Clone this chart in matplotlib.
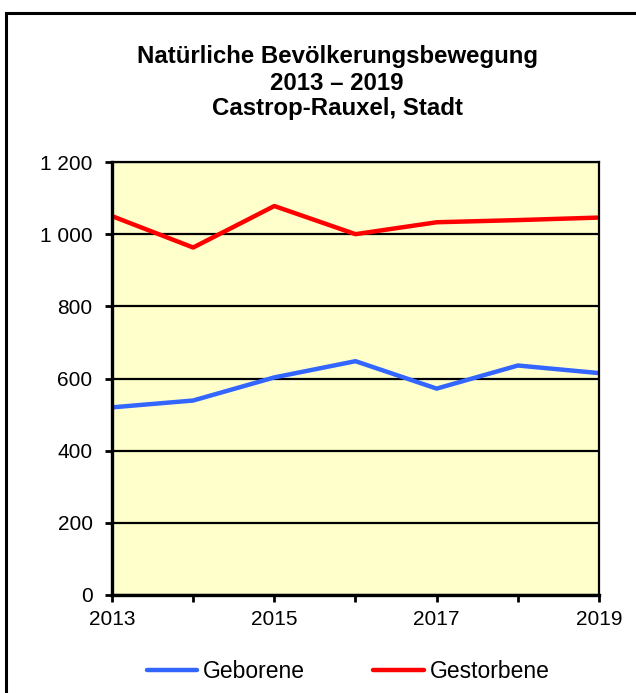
import matplotlib.pyplot as plt
from matplotlib.patches import Rectangle
from matplotlib.ticker import FuncFormatter, MultipleLocator

plt.rcParams['font.family'] = ['Liberation Sans', 'DejaVu Sans']

# data
years = [2013, 2014, 2015, 2016, 2017, 2018, 2019]
geborene = [520, 539, 603, 648, 572, 636, 615]
gestorbene = [1050, 963, 1078, 1000, 1033, 1039, 1046]

title_lines = ["Natürliche Bevölkerungsbewegung", "2013 – 2019", "Castrop-Rauxel, Stadt"]

fig = plt.figure(figsize=(6.36, 6.93), dpi=100)
W, H = 636, 693

# outer frame, cut off at right and bottom like the original
fig.patches.append(Rectangle((5.5 / W, -0.1), 1.2, (H - 13) / H + 0.1,
                             transform=fig.transFigure, fill=False,
                             edgecolor='black', linewidth=2.2))

ax = fig.add_axes([112 / W, (H - 595) / H, 487 / W, 433 / H])
ax.set_facecolor('#FFFFCC')

ax.plot(years, geborene, color='#3366FF', lw=3.2, label='Geborene', solid_capstyle='round')
ax.plot(years, gestorbene, color='#FF0000', lw=3.2, label='Gestorbene', solid_capstyle='round')

ax.set_xlim(2013, 2019)
ax.set_ylim(0, 1200)
ax.yaxis.set_major_locator(MultipleLocator(200))
ax.yaxis.set_major_formatter(FuncFormatter(lambda v, p: f"{int(v):,}".replace(",", " ")))
ax.set_xticks(years)
ax.set_xticklabels([str(y) if (y - 2013) % 2 == 0 else "" for y in years])
ax.grid(axis='y', color='black', lw=1.6)
ax.set_axisbelow(True)

for s in ['left', 'bottom']:
    ax.spines[s].set_linewidth(2.4)
for s in ['top', 'right']:
    ax.spines[s].set_linewidth(1.6)

ax.tick_params(axis='both', direction='out', length=5, width=2, labelsize=15, color='black')
ax.tick_params(axis='x', pad=6)
ax.tick_params(axis='y', pad=9)

fy = [(H - 57) / H, (H - 83) / H, (H - 108) / H]
for t, y in zip(title_lines, fy):
    fig.text(337 / W, y, t, ha='center', va='center', fontsize=17.3, fontweight='bold')

fig.legend(loc='center', bbox_to_anchor=(348 / W, 21 / H), ncol=2, frameon=False,
           fontsize=16.5, handlelength=2.2, handletextpad=0.25, columnspacing=3.0)

fig.savefig('out.png', dpi=100)
